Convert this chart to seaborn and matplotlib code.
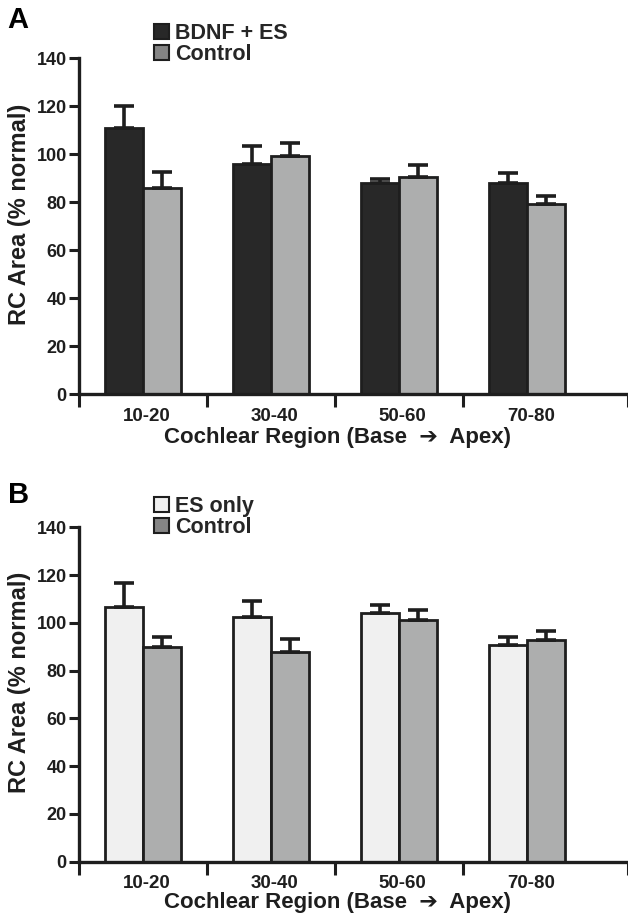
import numpy as np
import pandas as pd
import seaborn as sns
import matplotlib.pyplot as plt
from matplotlib.patches import Patch

# values (mean, top of SEM bar)
regions = ["10-20", "30-40", "50-60", "70-80"]

a_groups = ["BDNF + ES", "Control"]
a_bdnf = [111.0, 96.0, 88.0, 88.0]
a_bdnf_top = [120.0, 103.5, 89.5, 92.0]
a_ctrl = [86.0, 99.0, 90.5, 79.0]
a_ctrl_top = [92.5, 104.5, 95.5, 82.5]

b_groups = ["ES only", "Control"]
b_es = [106.5, 102.5, 104.0, 90.8]
b_es_top = [116.5, 109.0, 107.5, 94.0]
b_ctrl = [89.8, 88.0, 101.2, 93.0]
b_ctrl_top = [94.0, 93.3, 105.2, 96.5]

sns.set_style("ticks")
plt.rcParams["font.family"] = ["Liberation Sans", "DejaVu Sans"]
plt.rcParams["font.weight"] = "bold"

INK = "#1e1e1e"

fig = plt.figure(figsize=(6.28, 9.18), dpi=100)


def panel(rect, groups, s1, t1, s2, t2, colors, legend_colors, letter, leg_y, let_y, xl_y):
    ax = fig.add_axes(rect)
    df = pd.DataFrame({
        "region": regions * 2,
        "group": [groups[0]] * 4 + [groups[1]] * 4,
        "value": s1 + s2,
        "top": t1 + t2,
    })
    sns.barplot(data=df, x="region", y="value", hue="group", order=regions,
                hue_order=groups, palette=colors, width=0.6, errorbar=None,
                edgecolor=INK, linewidth=2, legend=False, ax=ax)
    # upward-only SEM bars
    bars = [p for p in ax.patches][:8]
    for p, (_, row) in zip(bars, df.iterrows()):
        x = p.get_x() + p.get_width() / 2
        h = row["value"]
        ax.errorbar(x, h, yerr=[[0], [row["top"] - h]], fmt="none",
                    ecolor=INK, elinewidth=2.6, capsize=7, capthick=2.6, zorder=1)
    ax.set_ylim(0, 140)
    ax.set_yticks(range(0, 141, 20))
    ax.set_xlim(-0.5, 3.79)
    ax.set_xticks([x + 0.03 for x in range(4)])
    ax.set_xticklabels(regions)
    ax.set_xticks([-0.5, 0.5, 1.5, 2.5, 3.79], minor=True)
    ax.tick_params(axis="x", which="major", length=0, pad=10, labelsize=13.5)
    ax.tick_params(axis="x", which="minor", length=9, width=2.2, color=INK)
    ax.tick_params(axis="y", length=7, width=2.2, color=INK, labelsize=13, pad=2)
    for s in ["left", "bottom"]:
        ax.spines[s].set_linewidth(2.4)
        ax.spines[s].set_color(INK)
    sns.despine(ax=ax)
    ax.set_xlabel("Cochlear Region (Base  \u2794  Apex)", fontsize=16,
                  fontweight="bold", color=INK)
    ax.xaxis.set_label_coords(0.47, xl_y)
    ax.set_ylabel("RC Area (% normal)", fontsize=17, fontweight="bold",
                  color=INK)
    ax.yaxis.set_label_coords(-0.088, 0.535)
    for t in ax.get_xticklabels() + ax.get_yticklabels():
        t.set_fontweight("bold")
        t.set_color(INK)
    handles = [Patch(facecolor=c, edgecolor=INK, linewidth=1.5) for c in legend_colors]
    fig.legend(handles, groups, loc="upper left", bbox_to_anchor=(0.228, leg_y),
               frameon=False, handlelength=0.7, handleheight=0.7,
               handletextpad=0.3, labelspacing=0.0, borderpad=0,
               prop={"weight": "bold", "size": 15.5})
    fig.text(0.012, let_y, letter, fontsize=21, fontweight="bold",
             color="black", va="top")
    return ax


panel([0.126, 0.5708, 0.874, 0.366], a_groups, a_bdnf, a_bdnf_top, a_ctrl,
      a_ctrl_top, ["#282828", "#adaeae"], ["#282828", "#858585"], "A",
      0.987, 0.993, -0.098)
panel([0.126, 0.0615, 0.874, 0.364], b_groups, b_es, b_es_top, b_ctrl,
      b_ctrl_top, ["#f0f0f0", "#adaeae"], ["#f0f0f0", "#858585"], "B",
      0.471, 0.476, -0.092)

fig.savefig("out.png", dpi=100)
